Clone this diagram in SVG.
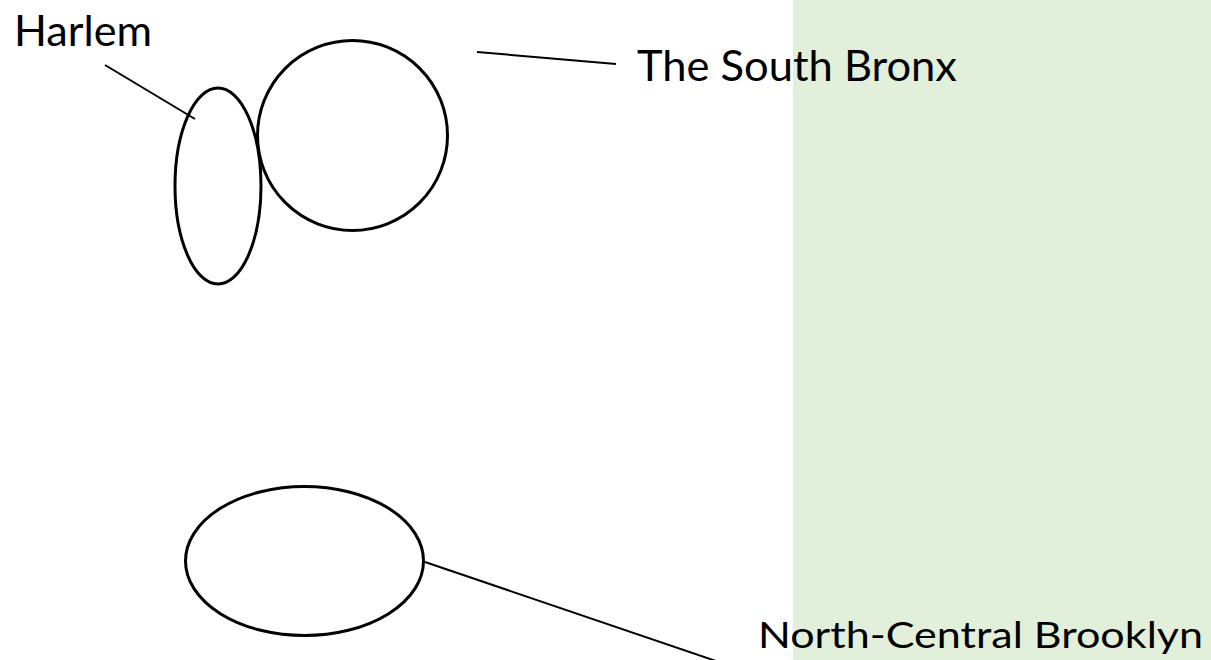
<svg xmlns="http://www.w3.org/2000/svg" width="1211" height="660" viewBox="0 0 1211 660">
<style>
.shape{fill:none;stroke:#000;stroke-width:3}
.conn{stroke:#000;stroke-width:2;fill:none}
.lbl{font-family:Lato,"Open Sans","Liberation Sans",sans-serif;fill:#000}
</style>
<rect x="0" y="0" width="1211" height="660" fill="#fff"/>
<rect x="793" y="0" width="418" height="660" fill="#E2EFDA"/>
<g id="connectors">
<line class="conn" x1="105" y1="65" x2="195" y2="119"/>
<line class="conn" x1="477" y1="52" x2="616" y2="64"/>
<line class="conn" x1="425" y1="562" x2="716" y2="661"/>
</g>
<g id="harlem">
<ellipse class="shape" cx="218" cy="186" rx="43" ry="98"/>
<text class="lbl" x="14" y="46" font-size="42" textLength="138" lengthAdjust="spacingAndGlyphs">Harlem</text>
</g>
<g id="south-bronx">
<ellipse class="shape" cx="352.5" cy="135.5" rx="95" ry="95"/>
<text class="lbl" x="637" y="81" font-size="42" textLength="320" lengthAdjust="spacingAndGlyphs">The South Bronx</text>
</g>
<g id="north-central-brooklyn">
<ellipse class="shape" cx="304.5" cy="561" rx="119" ry="74.5"/>
<text class="lbl" x="758" y="648" font-size="36" textLength="445" lengthAdjust="spacingAndGlyphs">North-Central Brooklyn</text>
</g>
</svg>
